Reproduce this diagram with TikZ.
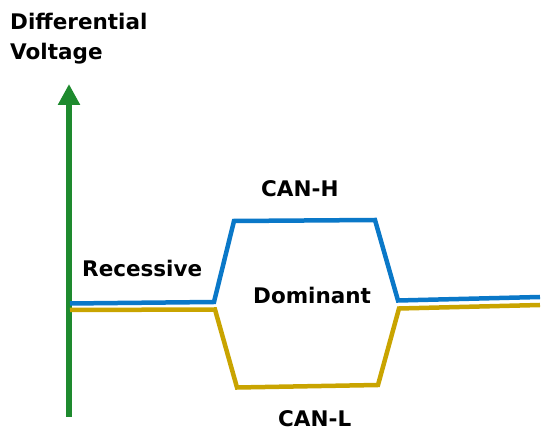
\documentclass[tikz,border=0pt]{standalone}
\usepackage{fontspec}
\setmainfont{DejaVu Sans}
\usetikzlibrary{arrows.meta}
\definecolor{axisgreen}{HTML}{1E8A2E}
\definecolor{canhblue}{HTML}{0A78C8}
\definecolor{canlgold}{HTML}{C9A400}
\tikzset{
  lbl/.style={font=\bfseries\fontsize{21.5}{24}\selectfont, inner sep=0pt, anchor=base west},
  sig/.style={line width=4.5pt, line join=miter},
}
\begin{document}
\begin{tikzpicture}[x=1pt,y=-1pt]
\useasboundingbox (0,0) rectangle (550,438);
% axis
\coordinate (ab) at (69,417);
\coordinate (at) at (69,84);
\draw[axisgreen, line width=6pt, -{Triangle[width=21pt,length=21pt]}] (ab) -- (at);
% CAN-H
\coordinate (h0) at (70,303.5);
\coordinate (h1) at (214,302);
\coordinate (h2) at (234,221);
\coordinate (h3) at (375,220);
\coordinate (h4) at (398,300.5);
\coordinate (h5) at (540,297);
\draw[sig, canhblue] (h0) -- (h1) -- (h2) -- (h3) -- (h4) -- (h5);
% CAN-L
\coordinate (l0) at (70,310);
\coordinate (l1) at (215,309.5);
\coordinate (l2) at (237,387.5);
\coordinate (l3) at (378,385);
\coordinate (l4) at (399,308.5);
\coordinate (l5) at (540,305);
\draw[sig, canlgold] (l0) -- (l1) -- (l2) -- (l3) -- (l4) -- (l5);
% labels
\node[lbl] (t1) at (10,30) {Differential};
\node[lbl] (t2) at (10,60) {Voltage};
\node[lbl] (rec) at (82,277) {Recessive};
\node[lbl] (canh) at (261,197) {CAN-H};
\node[lbl] (dom) at (253,304) {Dominant};
\node[lbl] (canl) at (278,427) {CAN-L};
\end{tikzpicture}
\end{document}
